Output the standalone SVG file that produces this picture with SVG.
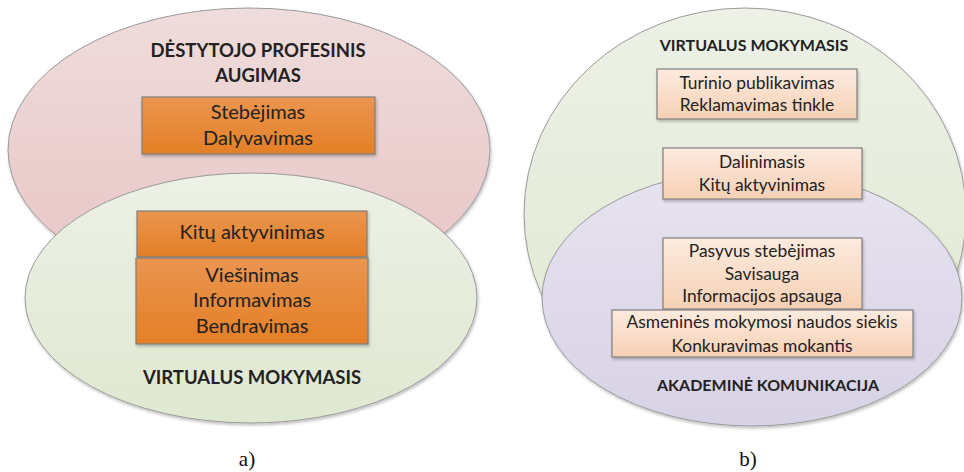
<svg xmlns="http://www.w3.org/2000/svg" width="964" height="472" viewBox="0 0 964 472">
  <defs>
    <linearGradient id="gPink" x1="0" y1="0" x2="0" y2="1">
      <stop offset="0" stop-color="#efdcdc"/>
      <stop offset="1" stop-color="#e8c4c4"/>
    </linearGradient>
    <linearGradient id="gGreen" x1="0" y1="0" x2="0" y2="1">
      <stop offset="0" stop-color="#edf1e6"/>
      <stop offset="1" stop-color="#dfe8d1"/>
    </linearGradient>
    <linearGradient id="gPurple" x1="0" y1="0" x2="0" y2="1">
      <stop offset="0" stop-color="#e7e3ef"/>
      <stop offset="1" stop-color="#d8d2e6"/>
    </linearGradient>
    <linearGradient id="gOrange" x1="0" y1="0" x2="0" y2="1">
      <stop offset="0" stop-color="#ea9550"/>
      <stop offset="1" stop-color="#e47f25"/>
    </linearGradient>
    <linearGradient id="gPeach" x1="0" y1="0" x2="0" y2="1">
      <stop offset="0" stop-color="#fcebdf"/>
      <stop offset="1" stop-color="#f7d0b4"/>
    </linearGradient>
    <filter id="shadow" x="-10%" y="-10%" width="120%" height="130%">
      <feGaussianBlur in="SourceAlpha" stdDeviation="1.5"/>
      <feOffset dx="1" dy="2" result="b"/>
      <feComponentTransfer><feFuncA type="linear" slope="0.25"/></feComponentTransfer>
      <feMerge><feMergeNode/><feMergeNode in="SourceGraphic"/></feMerge>
    </filter>
  </defs>
  <style>
    .ell { stroke: #9a9a9a; stroke-width: 1; }
    .box { stroke: #7f7f7f; stroke-width: 1.2; }
    .t { font-family: Lato, "Liberation Sans", sans-serif; fill: #222; text-anchor: middle; }
    .big { font-size: 20px; }
    .small { font-size: 17.4px; }
    .h1 { font-family: Lato, "Liberation Sans", sans-serif; font-weight: bold; fill: #222; text-anchor: middle; font-size: 18.5px; }
    .h2 { font-family: Lato, "Liberation Sans", sans-serif; font-weight: bold; fill: #222; text-anchor: middle; font-size: 16px; }
    .cap { font-family: "Liberation Serif", serif; font-size: 21px; fill: #111; text-anchor: middle; }
  </style>

  <rect width="964" height="472" fill="#ffffff"/>

  <!-- Part a -->
  <g id="a-professional-growth">
    <ellipse class="ell" cx="249" cy="150" rx="241" ry="142" fill="url(#gPink)" filter="url(#shadow)"/>
  </g>
  <g id="a-virtual-learning">
    <ellipse class="ell" cx="251" cy="298" rx="226" ry="125" fill="url(#gGreen)" filter="url(#shadow)"/>
  </g>
  <g id="a-title-growth">
    <text class="h1" x="258" y="57">DĖSTYTOJO PROFESINIS</text>
    <text class="h1" x="258" y="82">AUGIMAS</text>
  </g>
  <g id="a-box-observe">
    <rect class="box" x="142" y="97" width="233" height="57" fill="url(#gOrange)" filter="url(#shadow)"/>
    <text class="t big" x="258" y="119">Stebėjimas</text>
    <text class="t big" x="258" y="145">Dalyvavimas</text>
  </g>
  <g id="a-box-activate">
    <rect class="box" x="137" y="211" width="230" height="46" fill="url(#gOrange)" filter="url(#shadow)"/>
    <text class="t big" x="252" y="239">Kitų aktyvinimas</text>
  </g>
  <g id="a-box-inform">
    <rect class="box" x="136" y="258" width="232" height="86" fill="url(#gOrange)" filter="url(#shadow)"/>
    <text class="t big" x="252" y="282">Viešinimas</text>
    <text class="t big" x="252" y="307">Informavimas</text>
    <text class="t big" x="252" y="333">Bendravimas</text>
  </g>
  <g id="a-title-virtual">
    <text class="h1" x="252" y="384">VIRTUALUS MOKYMASIS</text>
  </g>
  <text class="cap" x="247" y="466">a)</text>

  <!-- Part b -->
  <g id="b-virtual-learning">
    <ellipse class="ell" cx="745" cy="214" rx="221" ry="206" fill="url(#gGreen)" filter="url(#shadow)"/>
  </g>
  <g id="b-academic-communication">
    <ellipse class="ell" cx="752" cy="298" rx="210" ry="128" fill="url(#gPurple)" filter="url(#shadow)"/>
  </g>
  <g id="b-title-virtual">
    <text class="h2" x="754" y="51">VIRTUALUS MOKYMASIS</text>
  </g>
  <g id="b-box-publish">
    <rect class="box" x="657" y="69" width="200" height="50" fill="url(#gPeach)" filter="url(#shadow)"/>
    <text class="t small" x="757" y="89">Turinio publikavimas</text>
    <text class="t small" x="757" y="111">Reklamavimas tinkle</text>
  </g>
  <g id="b-box-share">
    <rect class="box" x="663" y="148" width="199" height="51" fill="url(#gPeach)" filter="url(#shadow)"/>
    <text class="t small" x="762" y="168">Dalinimasis</text>
    <text class="t small" x="762" y="191">Kitų aktyvinimas</text>
  </g>
  <g id="b-box-passive">
    <rect class="box" x="663" y="238" width="199" height="71" fill="url(#gPeach)" filter="url(#shadow)"/>
    <text class="t small" x="762" y="257">Pasyvus stebėjimas</text>
    <text class="t small" x="762" y="280">Savisauga</text>
    <text class="t small" x="762" y="302">Informacijos apsauga</text>
  </g>
  <g id="b-box-benefit">
    <rect class="box" x="612" y="310" width="301" height="47" fill="url(#gPeach)" filter="url(#shadow)"/>
    <text class="t small" x="762" y="328">Asmeninės mokymosi naudos siekis</text>
    <text class="t small" x="762" y="352">Konkuravimas mokantis</text>
  </g>
  <g id="b-title-academic">
    <text class="h2" x="768" y="391">AKADEMINĖ KOMUNIKACIJA</text>
  </g>
  <text class="cap" x="748" y="466">b)</text>
</svg>
